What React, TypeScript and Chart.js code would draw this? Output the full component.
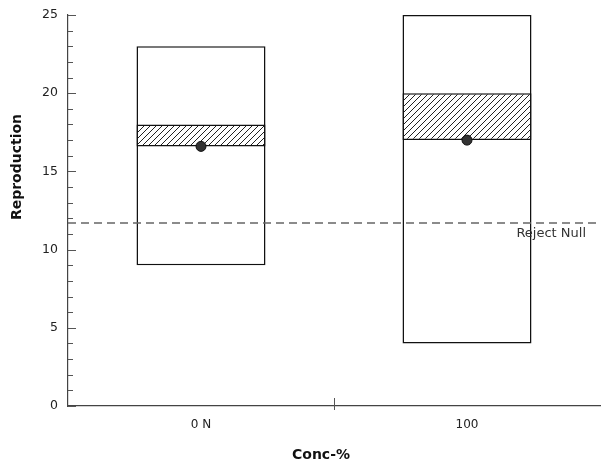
import React, { useEffect, useRef } from "react";
import { Chart, registerables } from "chart.js";

Chart.register(...registerables);

const categories = ["0 N", "100"];
const boxLow = [9, 4];
const boxHigh = [23, 25];
const ciLow = [16.6, 17];
const ciHigh = [18, 20];
const means = [16.6, 17];
const rejectNull = 11.7;
const rejectLabel = "Reject Null";
const yTitle = "Reproduction";
const xTitle = "Conc-%";
const yMin = 0;
const yMax = 25;
const yMajorStep = 5;
const yMinorStep = 1;

const FONT = "'DejaVu Sans', Verdana, sans-serif";

function makeHatch(): CanvasPattern | string {
  const s = 6;
  const c = document.createElement("canvas");
  c.width = s;
  c.height = s;
  const g = c.getContext("2d");
  if (!g) return "#fff";
  g.fillStyle = "#fff";
  g.fillRect(0, 0, s, s);
  g.strokeStyle = "#222";
  g.lineWidth = 1;
  g.beginPath();
  g.moveTo(0, s);
  g.lineTo(s, 0);
  g.moveTo(-1, 1);
  g.lineTo(1, -1);
  g.moveTo(s - 1, s + 1);
  g.lineTo(s + 1, s - 1);
  g.stroke();
  return g.createPattern(c, "repeat") || "#fff";
}

const overlayPlugin = {
  id: "overlay",
  afterDatasetsDraw(chart: any) {
    const { ctx, chartArea, scales } = chart;
    const y = scales.y;
    const x = scales.x;
    ctx.save();
    // inward y ticks
    ctx.strokeStyle = "#555";
    ctx.lineWidth = 1;
    for (let v = yMin; v <= yMax; v += yMinorStep) {
      const py = Math.round(y.getPixelForValue(v)) + 0.5;
      const len = v % yMajorStep === 0 ? 8 : 5;
      ctx.beginPath();
      ctx.moveTo(chartArea.left, py);
      ctx.lineTo(chartArea.left + len, py);
      ctx.stroke();
    }
    // x category divider tick
    for (let i = 0; i < categories.length - 1; i++) {
      const px = Math.round((x.getPixelForValue(i) + x.getPixelForValue(i + 1)) / 2) + 0.5;
      ctx.beginPath();
      ctx.moveTo(px, chartArea.bottom - 8);
      ctx.lineTo(px, chartArea.bottom + 4);
      ctx.stroke();
    }
    // reject null line
    const ry = y.getPixelForValue(rejectNull);
    ctx.strokeStyle = "#666";
    ctx.lineWidth = 1.3;
    ctx.setLineDash([8, 5]);
    ctx.beginPath();
    ctx.moveTo(chartArea.left, ry);
    ctx.lineTo(chartArea.right, ry);
    ctx.stroke();
    ctx.setLineDash([]);
    ctx.fillStyle = "#333";
    ctx.font = `13px ${FONT}`;
    ctx.textAlign = "right";
    ctx.textBaseline = "middle";
    ctx.fillText(rejectLabel, 586, ry + 11);
    // titles
    ctx.fillStyle = "#111";
    ctx.font = `bold 14px ${FONT}`;
    ctx.textAlign = "center";
    ctx.textBaseline = "middle";
    ctx.fillText(xTitle, 321, 455);
    ctx.translate(17, 167);
    ctx.rotate(-Math.PI / 2);
    ctx.fillText(yTitle, 0, 0);
    ctx.restore();
  },
};

export default function App() {
  const ref = useRef<HTMLCanvasElement | null>(null);
  useEffect(() => {
    if (!ref.current) return;
    const hatch = makeHatch();
    const chart = new Chart(ref.current, {
      type: "bar",
      data: {
        labels: categories,
        datasets: [
          {
            type: "line",
            label: "Mean",
            data: means,
            showLine: false,
            pointRadius: 5,
            pointBackgroundColor: "#333",
            pointBorderColor: "#111",
            pointBorderWidth: 1,
            order: 0,
          } as any,
          {
            label: "CI",
            data: categories.map((_, i) => [ciLow[i], ciHigh[i]]),
            backgroundColor: hatch as any,
            borderColor: "#111",
            borderWidth: 1.5,
            borderSkipped: false,
            grouped: false,
            categoryPercentage: 1,
            barPercentage: 0.485,
            order: 1,
          },
          {
            label: "Range",
            data: categories.map((_, i) => [boxLow[i], boxHigh[i]]),
            backgroundColor: "#fff",
            borderColor: "#111",
            borderWidth: 1.5,
            borderSkipped: false,
            grouped: false,
            categoryPercentage: 1,
            barPercentage: 0.485,
            order: 2,
          },
        ],
      },
      options: {
        animation: false,
        responsive: true,
        maintainAspectRatio: false,
        layout: { autoPadding: false, padding: { top: 15, right: 1, left: 0, bottom: 0 } },
        plugins: { legend: { display: false }, tooltip: { enabled: false } },
        scales: {
          x: {
            offset: true,
            grid: { display: false, drawTicks: false },
            border: { display: true, color: "#444", width: 1.2 },
            ticks: { padding: 12, color: "#222", font: { family: FONT, size: 12 } },
            afterFit: (s: any) => {
              s.height = 65;
              s.paddingLeft = 0;
              s.paddingRight = 0;
            },
          },
          y: {
            min: yMin,
            max: yMax,
            grid: { display: false, drawTicks: false },
            border: { display: true, color: "#444", width: 1.2 },
            ticks: { stepSize: yMajorStep, padding: 10, color: "#222", font: { family: FONT, size: 12.5 } },
            afterFit: (s: any) => {
              s.width = 68;
              s.paddingTop = 0;
              s.paddingBottom = 0;
            },
          },
        },
      },
      plugins: [overlayPlugin],
    });
    return () => chart.destroy();
  }, []);
  return (
    <div style={{ position: "fixed", left: 0, top: 0, width: 601, height: 471, background: "#fff" }}>
      <canvas ref={ref} />
    </div>
  );
}
